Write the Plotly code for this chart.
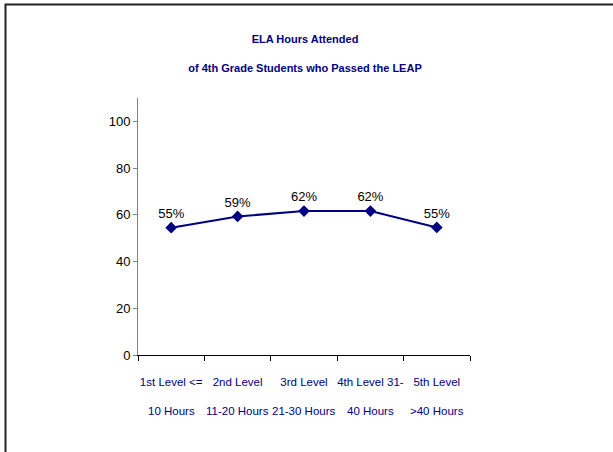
import plotly.graph_objects as go

categories = ["1st Level <= 10 Hours", "2nd Level 11-20 Hours", "3rd Level 21-30 Hours",
              "4th Level 31-40 Hours", "5th Level >40 Hours"]
label_line1 = ["1st Level <=", "2nd Level", "3rd Level", "4th Level 31-", "5th Level"]
label_line2 = ["10 Hours", "11-20 Hours", "21-30 Hours", "40 Hours", ">40 Hours"]
values = [54.5, 59.3, 61.6, 61.6, 54.6]
value_labels = ["55%", "59%", "62%", "62%", "55%"]
y_ticks = [0, 20, 40, 60, 80, 100]

NAVY = "#000080"
FONT = "Liberation Sans Narrow, Arial Narrow, Liberation Sans, Arial, sans-serif"

fig = go.Figure()
fig.add_trace(go.Scatter(
    x=categories, y=values, mode="lines+markers+text",
    text=value_labels, textposition="top center",
    textfont=dict(family=FONT, size=13, color="black"),
    line=dict(color=NAVY, width=2),
    marker=dict(symbol="diamond", size=9, color=NAVY),
    cliponaxis=False, hoverinfo="skip",
))

for c, t in zip(categories, label_line2):
    fig.add_annotation(x=c, y=0, xref="x", yref="paper", text=t, showarrow=False,
                       yshift=-64, font=dict(family=FONT, size=11.5, color=NAVY))

fig.update_xaxes(
    type="category", tickmode="array", tickvals=categories, ticktext=label_line1,
    tickson="boundaries", ticks="outside", ticklen=5, tickcolor="black",
    tickangle=0, ticklabelstandoff=16,
    showline=True, linecolor="black", linewidth=1, showgrid=False,
    tickfont=dict(family=FONT, size=11.5, color=NAVY), range=[-0.5, 4.5],
)
fig.update_yaxes(
    range=[0, 110], tickvals=y_ticks, ticks="outside", ticklen=4, tickcolor="#808080",
    showline=True, linecolor="#808080", linewidth=1, showgrid=False, zeroline=False,
    tickfont=dict(family=FONT, size=13, color="black"),
)

fig.add_shape(type="rect", xref="paper", yref="paper",
              x0=(5.5 - 138) / 332, x1=(640 - 138) / 332,
              y0=(355 - 480) / 257, y1=(355 - 4.5) / 257,
              line=dict(color="#222222", width=2), layer="below")

fig.update_layout(
    width=613, height=452,
    margin=dict(l=138, r=143, t=98, b=97),
    paper_bgcolor="white", plot_bgcolor="white",
    showlegend=False,
    title=dict(text="<b>ELA Hours Attended<br><br>of 4th Grade Students who Passed the LEAP</b>",
               x=(305 - 0) / 613, xanchor="center", y=1 - 43 / 452, yanchor="middle",
               font=dict(family=FONT, size=11, color=NAVY)),
)

fig.write_html("out.html")
